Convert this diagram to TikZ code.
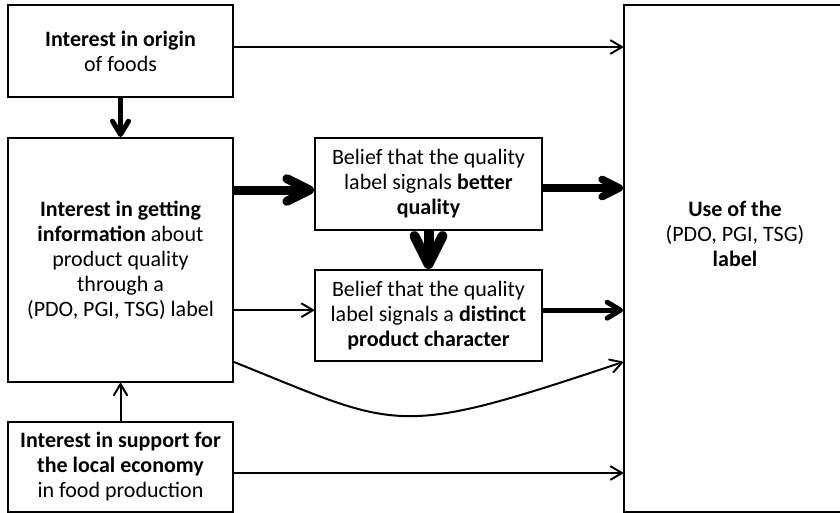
\documentclass[tikz,border=0pt]{standalone}
\usepackage{fontspec}
\setmainfont{Carlito}
\usetikzlibrary{arrows.meta}
\tikzstyle{factor}=[rectangle, draw, line width=1.5pt, align=center, inner sep=2pt]
\tikzstyle{link}=[line width=1.5pt, -{Straight Barb[round, length=8.5pt, width=10pt]}]
\tikzstyle{boldlink}=[line width=3.75pt, -{Straight Barb[round, length=10pt, width=12pt]}]
\tikzstyle{strongerlink}=[line width=5.5pt, -{Straight Barb[round, length=13pt, width=13pt]}]
\tikzstyle{heavylink}=[line width=6.75pt, -{Straight Barb[round, length=17pt, width=17pt]}]
\tikzstyle{heaviestlink}=[line width=7.5pt, -{Straight Barb[round, length=21pt, width=21pt]}]

\begin{document}
\begin{tikzpicture}[x=0.75pt, y=-0.75pt, font=\fontsize{16.5}{18.75}\selectfont]
  \useasboundingbox (0,0) rectangle (840,512);

  %% Interests
  \draw (120.5,51) node[factor, minimum width=168.75pt, minimum height=69pt] (A)
    {\textbf{Interest in origin}\\of foods};
  \draw (120.5,260) node[factor, minimum width=168.75pt, minimum height=183pt] (B)
    {\textbf{Interest in getting}\\\textbf{information} about\\product quality\\through a\\(PDO, PGI, TSG) label};
  \draw (120.5,467) node[factor, minimum width=168.75pt, minimum height=67.5pt] (C)
    {\textbf{Interest in support for}\\\textbf{the local economy}\\in food production};

  %% Beliefs
  \draw (428.5,184) node[factor, minimum width=170.25pt, minimum height=69pt] (D)
    {Belief that the quality\\label signals \textbf{better}\\\textbf{quality}};
  \draw (428.5,315.5) node[factor, minimum width=170.25pt, minimum height=68.25pt] (E)
    {Belief that the quality\\label signals a \textbf{distinct}\\\textbf{product character}};

  %% Use
  \draw (735,258.5) node[factor, minimum width=166.5pt, minimum height=380.25pt] (F) {};
  \draw (735,234) node[align=center] (Ftext) {\textbf{Use of the}\\(PDO, PGI, TSG)\\\textbf{label}};

  \coordinate (Aout) at ([yshift=3pt]A.east);
  \coordinate (Din) at ([yshift=-4.5pt]D.west);
  \coordinate (Dout) at ([yshift=-3pt]D.east);
  \coordinate (Ein) at ([yshift=4pt]E.west);
  \coordinate (Eout) at ([yshift=4pt]E.east);
  \coordinate (Cout) at ([yshift=-4.5pt]C.east);

  \draw[link] (Aout) -- (Aout -| F.west);
  \draw[boldlink] (A) -- (B);
  \draw[link] (C) -- (B);
  \draw[link] (Cout) -- (Cout -| F.west);

  \draw[heavylink] (B.east |- Din) -- (Din);
  \draw[link] (B.east |- Ein) -- (Ein);
  \draw[heaviestlink] (D) -- (E);
  \draw[strongerlink] (Dout) -- (Dout -| F.west);
  \draw[boldlink] (Eout) -- (Eout -| F.west);

  %% Direct path
  \draw[link] (B.east |- E.south) .. controls +(167,67) and +(-230,77) .. (F.west |- E.south);
\end{tikzpicture}
\end{document}
